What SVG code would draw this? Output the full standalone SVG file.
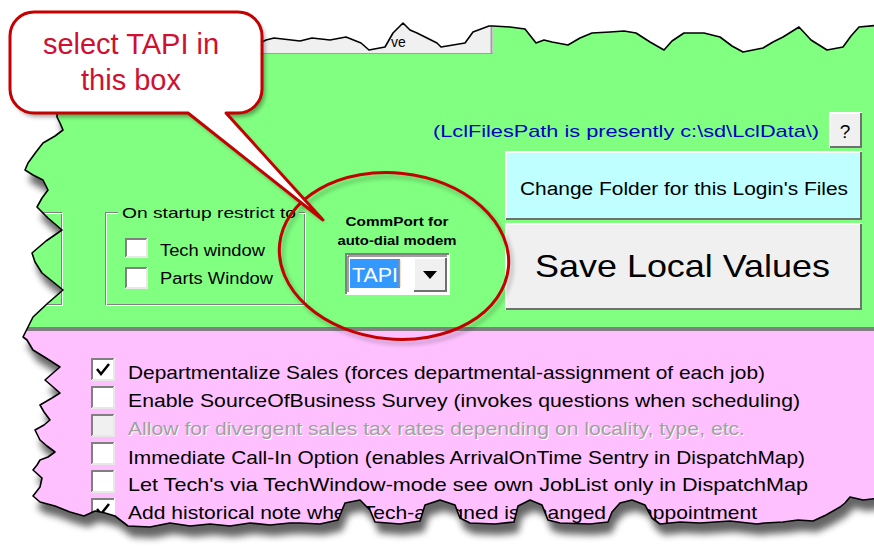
<svg xmlns="http://www.w3.org/2000/svg" width="874" height="551" viewBox="0 0 874 551">
<defs>
  <style>
    .ui{font-family:"Liberation Sans",Arial,sans-serif;fill:#000}
    .etchD{fill:none;stroke:#808080;stroke-width:1}
    .etchL{fill:none;stroke:#ffffff;stroke-width:1}
    .cbF{fill:#ffffff}
    .cbD{fill:none;stroke:#808080;stroke-width:2}
    .cbL{fill:none;stroke:#e8e8e8;stroke-width:2}
    .btnL{fill:none;stroke:#ffffff;stroke-width:2}
    .btnD{fill:none;stroke:#707070;stroke-width:2}
    .red{fill:none;stroke:#c40000;stroke-width:3}
  </style>
  <filter id="blur" x="-10%" y="-10%" width="120%" height="130%"><feGaussianBlur stdDeviation="3.5"/></filter>
  <filter id="blurS" x="-10%" y="-10%" width="130%" height="130%"><feGaussianBlur stdDeviation="2"/></filter>
  <clipPath id="shot">
    <path id="shotPath" d="M57,100 L60,53 L262,53 L262,42 L266,40 L274,38 L300,41 L312,38 L330,40 L346,37 L361,43 L369,50 L385,47 L393,33 L403,23 L410,30 L417,33 L437,43 L441,47 L465,43 L473,32 L489,26 L493,26 L510,27 L525,29 L536,43 L544,40 L552,42 L568,45 L580,38 L592,33 L610,32 L624,31 L636,33 L650,42 L664,50 L672,41 L684,33 L704,33 L720,37 L732,46 L743,52 L763,48 L773,42 L783,37 L799,27 L811,40 L827,50 L843,47 L851,36 L859,27 L880,25 L880,498 L863,500 L850,497 L845,503 L840,507 L826,515 L813,521 L798,520 L783,522 L765,523 L757,524 L730,521 L700,523 L680,522 L660,524 L652,518 L645,505 L632,500 L620,503 L612,512 L608,522 L590,524 L560,523 L548,520 L542,505 L530,500 L518,506 L514,522 L495,524 L470,523 L460,518 L455,505 L440,500 L425,505 L420,521 L400,524 L375,522 L370,510 L360,500 L345,503 L338,520 L320,524 L300,523 L290,523 L270,525 L250,523 L230,526 L210,524 L190,526 L170,523 L150,527 L128,526 L115,516 L105,513 L95,511 L84,516 L70,512 L55,506 L40,502 L33,496 L40,487 L42,478 L33,470 L37,465 L40,460 L48,457 L55,452 L47,446 L40,440 L35,430 L44,425 L50,420 L44,412 L40,405 L52,398 L60,393 L52,386 L45,380 L53,373 L60,367 L46,358 L33,350 L27,340 L23,337 L28,327 L33,317 L48,303 L63,290 L52,281 L42,273 L35,262 L32,253 L46,241 L62,230 L48,218 L37,207 L42,198 L48,190 L43,180 L33,175 L25,170 L28,163 L36,152 L43,143 L55,136 L63,130 L60,123 L57,117 Z"/>
  </clipPath>
  <clipPath id="tabClip">
    <path d="M262,53 L262,42 L266,40 L274,38 L300,41 L312,38 L330,40 L346,37 L361,43 L369,50 L385,47 L393,33 L403,23 L410,30 L417,33 L437,43 L441,47 L465,43 L473,32 L489,26 L493,26 L493,53 Z"/>
  </clipPath>
</defs>

<g id="screenshot-shadow">
  <use href="#shotPath" fill="#000" opacity="0.6" filter="url(#blur)" transform="translate(4,11)"/>
</g>

<g id="screenshot" clip-path="url(#shot)">
  <rect x="0" y="0" width="880" height="328" fill="#80ff80"/>
  <rect x="0" y="327" width="880" height="4" fill="#808080"/>
  <rect x="0" y="331" width="880" height="230" fill="#ffc0ff"/>

  <g id="tab" clip-path="url(#tabClip)">
    <rect x="262" y="20" width="231" height="34" fill="#f0f0f0"/>
    <line x1="491.5" y1="20" x2="491.5" y2="53" stroke="#a0a0a0" stroke-width="2"/>
    <text class="ui" x="391" y="47" font-size="14" fill="#303030">ve</text>
  </g>
  <line x1="262" y1="53.5" x2="493" y2="53.5" stroke="#a0a0a0" stroke-width="1"/>

  <g id="groupbox-left">
    <rect class="etchD" x="-10.5" y="212.5" width="72" height="92"/>
    <rect class="etchL" x="-9.5" y="213.5" width="72" height="92"/>
  </g>

  <g id="groupbox-startup">
    <rect class="etchD" x="105.5" y="212.5" width="199" height="92"/>
    <rect class="etchL" x="106.5" y="213.5" width="199" height="92"/>
    <rect x="118" y="205" width="181" height="14" fill="#80ff80"/>
    <text class="ui" x="122" y="218" font-size="15" textLength="174" lengthAdjust="spacingAndGlyphs">On startup restrict to</text>
    <g id="cb-tech">
      <rect class="cbF" x="125" y="238" width="23" height="20"/>
      <path class="cbD" d="M126,257 V239 H147"/>
      <path class="cbL" d="M126,257 H147 V239"/>
      <text class="ui" x="160" y="256" font-size="16" textLength="105" lengthAdjust="spacingAndGlyphs">Tech window</text>
    </g>
    <g id="cb-parts">
      <rect class="cbF" x="125" y="267" width="23" height="22"/>
      <path class="cbD" d="M126,288 V268 H147"/>
      <path class="cbL" d="M126,288 H147 V268"/>
      <text class="ui" x="160" y="284" font-size="16" textLength="113" lengthAdjust="spacingAndGlyphs">Parts Window</text>
    </g>
  </g>

  <g id="commport">
    <text class="ui" x="397" y="226" font-size="12" font-weight="bold" text-anchor="middle" textLength="103" lengthAdjust="spacingAndGlyphs">CommPort for</text>
    <text class="ui" x="397" y="245" font-size="12" font-weight="bold" text-anchor="middle" textLength="119" lengthAdjust="spacingAndGlyphs">auto-dial modem</text>
    <g id="combo">
      <rect x="345" y="253" width="105" height="42" fill="#ffffff"/>
      <path d="M346,294 V254 H449" fill="none" stroke="#808080" stroke-width="2"/>
      <path d="M348,292 V256 H447" fill="none" stroke="#404040" stroke-width="1"/>
      <rect x="350" y="259" width="50" height="29" fill="#3399ff"/>
      <line x1="399.5" y1="260" x2="399.5" y2="287" stroke="#e08030" stroke-width="1.5"/>
      <text x="352" y="282" font-family="Liberation Sans, Arial, sans-serif" font-size="21" fill="#ffffff" textLength="46" lengthAdjust="spacingAndGlyphs">TAPI</text>
      <rect x="413" y="257" width="34" height="35" fill="#f0f0f0"/>
      <path class="btnL" d="M414,291 V258 H446"/>
      <path class="btnD" d="M414,291 H446 V258"/>
      <polygon points="423,271 437,271 430,279" fill="#000"/>
    </g>
  </g>

  <g id="lclpath">
    <text x="433" y="137" font-family="Liberation Sans, Arial, sans-serif" font-size="17" fill="#0000c8" textLength="386" lengthAdjust="spacingAndGlyphs">(LclFilesPath is presently c:\sd\LclData\)</text>
  </g>

  <g id="btn-help">
    <rect x="829" y="112" width="33" height="36" fill="#f0f0f0"/>
    <path class="btnL" d="M830,147 V113 H861"/>
    <path class="btnD" d="M830,147 H861 V113"/>
    <text class="ui" x="845" y="138" font-size="19" text-anchor="middle" fill="#202020">?</text>
  </g>

  <g id="btn-change-folder">
    <rect x="505" y="151" width="357" height="69" fill="#c0ffff"/>
    <path class="btnL" d="M506,219 V152 H861"/>
    <path class="btnD" d="M506,219 H861 V152"/>
    <text class="ui" x="520" y="195" font-size="18" textLength="328" lengthAdjust="spacingAndGlyphs">Change Folder for this Login's Files</text>
  </g>

  <g id="btn-save">
    <rect x="505" y="223" width="357" height="87" fill="#f0f0f0"/>
    <path class="btnL" d="M506,309 V224 H861"/>
    <path class="btnD" d="M506,309 H861 V224"/>
    <text class="ui" x="535" y="277" font-size="32" textLength="295" lengthAdjust="spacingAndGlyphs">Save Local Values</text>
  </g>

  <g id="options">
    <g id="opt-1">
      <rect class="cbF" x="91" y="358" width="24" height="23"/>
      <path class="cbD" d="M92,380 V359 H114"/>
      <path class="cbL" d="M92,380 H114 V359"/>
      <path d="M97,369 L101,374 L109,364" fill="none" stroke="#000" stroke-width="2.5"/>
      <text class="ui" x="128" y="379" font-size="19" textLength="637" lengthAdjust="spacingAndGlyphs">Departmentalize Sales (forces departmental-assignment of each job)</text>
    </g>
    <g id="opt-2">
      <rect class="cbF" x="91" y="386" width="24" height="23"/>
      <path class="cbD" d="M92,408 V387 H114"/>
      <path class="cbL" d="M92,408 H114 V387"/>
      <text class="ui" x="128" y="407" font-size="19" textLength="672" lengthAdjust="spacingAndGlyphs">Enable SourceOfBusiness Survey (invokes questions when scheduling)</text>
    </g>
    <g id="opt-3">
      <rect x="91" y="414" width="24" height="23" fill="#f0f0f0"/>
      <path class="cbD" d="M92,436 V415 H114"/>
      <path class="cbL" d="M92,436 H114 V415"/>
      <text x="129" y="436" font-family="Liberation Sans, Arial, sans-serif" font-size="19" fill="#ffffff" textLength="617" lengthAdjust="spacingAndGlyphs">Allow for divergent sales tax rates depending on locality, type, etc.</text>
      <text x="128" y="435" font-family="Liberation Sans, Arial, sans-serif" font-size="19" fill="#a0a0a0" textLength="617" lengthAdjust="spacingAndGlyphs">Allow for divergent sales tax rates depending on locality, type, etc.</text>
    </g>
    <g id="opt-4">
      <rect class="cbF" x="91" y="442" width="24" height="23"/>
      <path class="cbD" d="M92,464 V443 H114"/>
      <path class="cbL" d="M92,464 H114 V443"/>
      <text class="ui" x="128" y="464" font-size="19" textLength="677" lengthAdjust="spacingAndGlyphs">Immediate Call-In Option (enables ArrivalOnTime Sentry in DispatchMap)</text>
    </g>
    <g id="opt-5">
      <rect class="cbF" x="91" y="470" width="24" height="23"/>
      <path class="cbD" d="M92,492 V471 H114"/>
      <path class="cbL" d="M92,492 H114 V471"/>
      <text class="ui" x="128" y="491" font-size="19" textLength="680" lengthAdjust="spacingAndGlyphs">Let Tech's via TechWindow-mode see own JobList only in DispatchMap</text>
    </g>
    <g id="opt-6">
      <rect class="cbF" x="91" y="498" width="24" height="23"/>
      <path class="cbD" d="M92,520 V499 H114"/>
      <path d="M97,509 L101,514 L109,504" fill="none" stroke="#000" stroke-width="2.5"/>
      <text class="ui" x="128" y="519" font-size="19" textLength="629" lengthAdjust="spacingAndGlyphs">Add historical note when Tech-assigned is changed on appointment</text>
    </g>
  </g>
</g>

<g id="screenshot-edge">
  <use href="#shotPath" fill="none" stroke="#000" stroke-width="1.6" stroke-linejoin="round"/>
</g>

<g id="connectors">
  <g id="highlight-ellipse">
    <ellipse cx="397" cy="260" rx="115" ry="83" transform="rotate(6 397 260)" fill="none" stroke="#000" stroke-width="3" opacity="0.25" filter="url(#blurS)"/>
    <ellipse class="red" cx="394" cy="256" rx="115" ry="83" transform="rotate(6 394 256)"/>
  </g>
</g>

<g id="callout">
  <path d="M34,12 H238 A24,24 0 0 1 262,36 V89 A24,24 0 0 1 238,113 H226 L323,220 L188,113 H34 A24,24 0 0 1 10,89 V36 A24,24 0 0 1 34,12 Z" fill="#000" opacity="0.35" filter="url(#blurS)" transform="translate(3,4)"/>
  <path d="M34,12 H238 A24,24 0 0 1 262,36 V89 A24,24 0 0 1 238,113 H226 L323,220 L188,113 H34 A24,24 0 0 1 10,89 V36 A24,24 0 0 1 34,12 Z" fill="#ffffff" stroke="#c40000" stroke-width="3" stroke-linejoin="round"/>
  <text x="131" y="54" font-family="Liberation Sans, Arial, sans-serif" font-size="29" fill="#d01030" text-anchor="middle">select TAPI in</text>
  <text x="131" y="90" font-family="Liberation Sans, Arial, sans-serif" font-size="29" fill="#d01030" text-anchor="middle">this box</text>
</g>
</svg>
